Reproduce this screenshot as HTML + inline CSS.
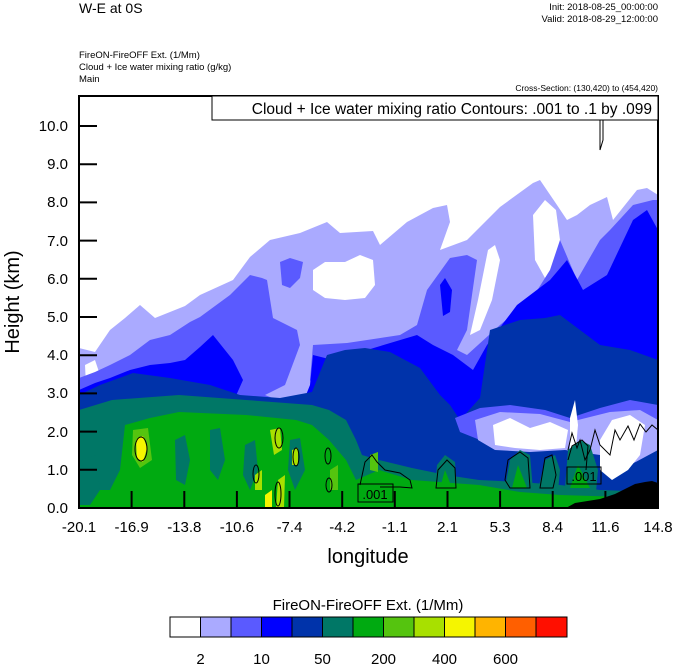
<!DOCTYPE html>
<html><head><meta charset="utf-8"><style>
html,body{margin:0;padding:0;background:#fff}
svg{display:block}
text{font-family:"Liberation Sans",sans-serif}
</style></head><body>
<svg width="674" height="667" viewBox="0 0 674 667" xmlns="http://www.w3.org/2000/svg">
<text x="79" y="13" font-size="14">W-E at 0S</text>
<text x="658" y="10" font-size="9.5" text-anchor="end">Init: 2018-08-25_00:00:00</text>
<text x="658" y="22" font-size="9.5" text-anchor="end">Valid: 2018-08-29_12:00:00</text>
<text x="79" y="58" font-size="9.5">FireON-FireOFF Ext.   (1/Mm)</text>
<text x="79" y="70" font-size="9.5">Cloud + Ice water mixing ratio   (g/kg)</text>
<text x="79" y="82" font-size="9.5">Main</text>
<text x="658" y="91" font-size="8.5" text-anchor="end">Cross-Section: (130,420) to (454,420)</text>
<defs><clipPath id="c"><rect x="79" y="96" width="579" height="412"/></clipPath></defs>
<g clip-path="url(#c)">
<!-- light blue -->
<path fill="#aaaaff" d="M79,348 L95,352 L110,330 L125,318 L140,305 L155,318 L170,312 L185,306 L200,295 L233,280 L250,257 L270,240 L300,233 L327,222 L340,233 L373,231 L380,245 L407,222 L433,208 L447,205 L450,222 L440,250 L467,240 L500,207 L533,183 L540,180 L557,205 L567,220 L577,215 L590,205 L607,197 L613,220 L637,190 L647,188 L658,195 L658,508 L79,508Z"/>
<!-- white holes -->
<path fill="#fff" d="M313,270 L325,262 L345,262 L360,255 L373,260 L375,285 L365,298 L345,300 L325,298 L313,290Z"/>
<path fill="#fff" d="M533,215 L545,200 L556,210 L560,240 L555,275 L545,278 L535,260Z"/>
<path fill="#fff" d="M488,250 L495,245 L500,260 L492,300 L480,330 L470,335 L478,300Z"/>
<path fill="#fff" d="M85,365 L95,360 L100,375 L95,385 L86,385Z"/>
<!-- medium blue -->
<path fill="#5a5aff" d="M79,378 L95,372 L110,365 L130,355 L150,340 L170,335 L190,322 L200,317 L230,295 L250,275 L262,278 L267,280 L273,318 L297,330 L300,345 L285,385 L265,395 L290,405 L320,408 L310,380 L313,345 L347,343 L400,335 L417,325 L427,290 L450,258 L467,255 L477,260 L467,330 L457,350 L467,355 L500,325 L533,297 L550,270 L560,240 L577,280 L600,240 L610,230 L633,205 L653,200 L658,200 L658,508 L79,508Z"/>
<path fill="#5a5aff" d="M280,262 L290,258 L303,262 L300,278 L290,288 L282,285Z"/>
<!-- blue -->
<path fill="#0000ff" d="M79,390 L95,383 L110,378 L130,370 L150,365 L170,363 L185,360 L200,347 L213,335 L233,360 L243,380 L235,398 L300,410 L310,385 L313,355 L333,360 L367,350 L417,335 L433,345 L453,355 L473,370 L487,345 L517,305 L550,280 L567,260 L583,290 L607,275 L633,220 L647,210 L658,230 L658,508 L79,508Z"/>
<path fill="#0000ff" d="M440,285 L445,278 L452,290 L450,312 L443,316Z"/>
<!-- dark blue -->
<path fill="#0033aa" d="M79,395 L100,385 L133,373 L170,378 L210,385 L240,395 L280,398 L312,392 L327,355 L345,350 L365,348 L390,352 L420,368 L440,395 L450,405 L460,420 L480,398 L490,330 L520,320 L545,318 L560,315 L580,330 L600,345 L630,350 L658,360 L658,508 L79,508Z"/>
<!-- light streaks lower right -->
<path fill="#5a5aff" d="M455,418 L480,408 L510,405 L545,410 L570,418 L600,408 L630,400 L658,405 L658,440 L620,450 L590,445 L560,440 L520,445 L480,440 L460,432Z"/>
<path fill="#aaaaff" d="M475,420 L500,412 L540,414 L570,422 L610,412 L640,410 L658,420 L658,450 L630,465 L600,455 L565,450 L530,452 L495,450 L478,440Z"/>
<path fill="#fff" d="M493,425 L510,418 L530,428 L550,422 L568,430 L565,448 L540,450 L515,448 L495,445Z"/>
<path fill="#fff" d="M600,440 L612,420 L630,415 L645,425 L640,455 L628,470 L612,480 L600,470Z"/>
<path fill="#fff" d="M570,418 L575,400 L578,425 L574,470 L570,470Z"/>
<!-- teal -->
<path fill="#007766" d="M79,410 L112,400 L179,395 L246,400 L312,405 L329,410 L346,420 L356,440 L362,455 L379,460 L412,468 L446,475 L479,480 L520,482 L560,485 L600,490 L658,492 L658,508 L79,508Z"/>
<path fill="#007766" d="M435,490 L437,465 L445,455 L455,462 L457,492Z"/>
<path fill="#007766" d="M505,488 L510,460 L520,450 L530,455 L533,490Z"/>
<path fill="#007766" d="M538,490 L545,460 L555,455 L560,470 L558,492Z"/>
<path fill="#007766" d="M565,488 L568,450 L580,440 L590,445 L598,470 L596,492Z"/>
<!-- green -->
<path fill="#00aa11" d="M120,470 L125,425 L150,418 L179,412 L246,415 L296,420 L312,425 L329,440 L346,460 L356,480 L379,470 L412,480 L479,485 L520,492 L560,495 L658,498 L658,508 L79,508 L79,490 L110,490Z"/>
<path fill="#007766" d="M175,440 L185,435 L190,460 L185,485 L176,480Z"/>
<path fill="#007766" d="M210,430 L220,428 L225,460 L218,480 L210,470Z"/>
<path fill="#007766" d="M245,445 L255,440 L258,470 L250,490 L243,475Z"/>
<path fill="#007766" d="M290,440 L300,438 L305,470 L295,490 L288,470Z"/>
<path fill="#007766" d="M80,460 L95,455 L100,490 L90,505 L80,505Z"/>
<path fill="#00aa11" d="M440,488 L445,470 L452,488Z"/>
<path fill="#00aa11" d="M512,488 L518,465 L527,488Z"/>
<path fill="#00aa11" d="M570,488 L578,465 L590,488Z"/>
<!-- light green / yellow spots -->
<path fill="#55c40f" d="M133,430 L148,428 L152,460 L140,468 L132,455Z"/>
<path fill="#f5f500" d="M136,440 L143,436 L147,448 L143,462 L137,458Z"/>
<path fill="#a8e000" d="M270,430 L280,428 L282,450 L274,455Z"/>
<path fill="#a8e000" d="M278,480 L285,475 L284,508 L276,508Z"/>
<path fill="#f5f500" d="M265,495 L272,490 L272,508 L265,508Z"/>
<path fill="#a8e000" d="M292,450 L298,448 L298,465 L292,465Z"/>
<path fill="#a8e000" d="M255,475 L262,470 L262,490 L255,490Z"/>
<path fill="#55c40f" d="M330,470 L338,465 L338,490 L330,490Z"/>
<path fill="#55c40f" d="M370,455 L378,452 L378,472 L370,470Z"/>
<!-- terrain -->
<path fill="#000" d="M566,508 L575,503 L600,499 L615,494 L625,489 L635,484 L645,482 L652,481 L658,483 L658,508Z"/>
<!-- contour lines -->
<g fill="none" stroke="#000" stroke-width="1">
<ellipse cx="141" cy="449" rx="6" ry="12"/>
<ellipse cx="279" cy="438" rx="4" ry="10"/>
<ellipse cx="296" cy="457" rx="3" ry="9"/>
<ellipse cx="256" cy="474" rx="3" ry="9"/>
<ellipse cx="328" cy="456" rx="3" ry="8"/>
<ellipse cx="329" cy="485" rx="3" ry="7"/>
<ellipse cx="278" cy="494" rx="3" ry="12"/>
<path d="M360,485 L365,462 L372,455 L377,462 L385,470 L400,473 L410,480 L412,488 L400,487 L380,487"/>
<path d="M436,488 L438,470 L447,460 L455,468 L456,488 Z"/>
<path d="M505,480 L508,460 L520,452 L528,458 L530,488 L510,488Z"/>
<path d="M540,488 L545,458 L552,455 L556,475 L553,488Z"/>
<path d="M568,460 L572,446 L582,440 L588,446 L586,470"/>
<path d="M568,450 L572,433 L577,448 L580,440 L585,460 L590,450 L595,430 L600,445 L610,455 L615,430 L620,440 L628,426 L634,440 L640,424 L646,432 L652,425 L658,430"/>
<path d="M603,100 L603,140 L600,150 L600,120"/>
</g>
</g>
<!-- label boxes -->
<rect x="358" y="484" width="35" height="18" fill="none" stroke="#000"/>
<text x="375" y="499" font-size="13" text-anchor="middle">.001</text>
<rect x="567" y="467" width="34" height="17" fill="none" stroke="#000"/>
<text x="584" y="481" font-size="13" text-anchor="middle">.001</text>
<!-- frame -->
<rect x="79" y="96" width="579" height="412" fill="none" stroke="#000" stroke-width="2"/>
<rect x="212" y="96" width="446" height="24" fill="#fff" stroke="#000" stroke-width="1"/>
<text x="652" y="114" font-size="15.5" text-anchor="end">Cloud + Ice water mixing ratio Contours: .001 to .1 by .099</text>
<!-- y ticks -->
<g stroke="#000" stroke-width="2">
<line x1="79" x2="97" y1="126" y2="126"/><line x1="79" x2="97" y1="164.2" y2="164.2"/><line x1="79" x2="97" y1="202.4" y2="202.4"/><line x1="79" x2="97" y1="240.6" y2="240.6"/><line x1="79" x2="97" y1="278.8" y2="278.8"/><line x1="79" x2="97" y1="317" y2="317"/><line x1="79" x2="97" y1="355.2" y2="355.2"/><line x1="79" x2="97" y1="393.4" y2="393.4"/><line x1="79" x2="97" y1="431.6" y2="431.6"/><line x1="79" x2="97" y1="469.8" y2="469.8"/>
<line x1="131.6" x2="131.6" y1="508" y2="491"/><line x1="184.3" x2="184.3" y1="508" y2="491"/><line x1="236.9" x2="236.9" y1="508" y2="491"/><line x1="289.5" x2="289.5" y1="508" y2="491"/><line x1="342.2" x2="342.2" y1="508" y2="491"/><line x1="394.8" x2="394.8" y1="508" y2="491"/><line x1="447.5" x2="447.5" y1="508" y2="491"/><line x1="500.1" x2="500.1" y1="508" y2="491"/><line x1="552.7" x2="552.7" y1="508" y2="491"/><line x1="605.4" x2="605.4" y1="508" y2="491"/>
</g>
<g font-size="15" text-anchor="end">
<text x="68" y="131">10.0</text><text x="68" y="169">9.0</text><text x="68" y="207">8.0</text><text x="68" y="246">7.0</text><text x="68" y="284">6.0</text><text x="68" y="322">5.0</text><text x="68" y="360">4.0</text><text x="68" y="398">3.0</text><text x="68" y="437">2.0</text><text x="68" y="475">1.0</text><text x="68" y="513">0.0</text>
</g>
<g font-size="15" text-anchor="middle">
<text x="79" y="532">-20.1</text><text x="131.6" y="532">-16.9</text><text x="184.3" y="532">-13.8</text><text x="236.9" y="532">-10.6</text><text x="289.5" y="532">-7.4</text><text x="342.2" y="532">-4.2</text><text x="394.8" y="532">-1.1</text><text x="447.5" y="532">2.1</text><text x="500.1" y="532">5.3</text><text x="552.7" y="532">8.4</text><text x="605.4" y="532">11.6</text><text x="658" y="532">14.8</text>
</g>
<text x="368" y="563" font-size="20" text-anchor="middle">longitude</text>
<text transform="translate(19,302) rotate(-90)" font-size="20" text-anchor="middle">Height (km)</text>
<!-- colorbar -->
<text x="368" y="610" font-size="15" text-anchor="middle">FireON-FireOFF Ext.  (1/Mm)</text>
<g stroke="#000" stroke-width="1">
<rect x="170" y="617" width="30.5" height="20" fill="#fff"/>
<rect x="200.5" y="617" width="30.5" height="20" fill="#aaaaff"/>
<rect x="231" y="617" width="30.5" height="20" fill="#5a5aff"/>
<rect x="261.5" y="617" width="30.5" height="20" fill="#0000ff"/>
<rect x="292" y="617" width="30.5" height="20" fill="#0033aa"/>
<rect x="322.5" y="617" width="30.5" height="20" fill="#007766"/>
<rect x="353" y="617" width="30.5" height="20" fill="#00aa11"/>
<rect x="383.5" y="617" width="30.5" height="20" fill="#55c40f"/>
<rect x="414" y="617" width="30.5" height="20" fill="#a8e000"/>
<rect x="444.5" y="617" width="30.5" height="20" fill="#f5f500"/>
<rect x="475" y="617" width="30.5" height="20" fill="#ffb400"/>
<rect x="505.5" y="617" width="30.5" height="20" fill="#ff5f00"/>
<rect x="536" y="617" width="31" height="20" fill="#ff0f00"/>
</g>
<g font-size="15" text-anchor="middle">
<text x="200.5" y="664">2</text><text x="261.5" y="664">10</text><text x="322.5" y="664">50</text><text x="383.5" y="664">200</text><text x="444.5" y="664">400</text><text x="505.5" y="664">600</text>
</g>
</svg>
</body></html>
